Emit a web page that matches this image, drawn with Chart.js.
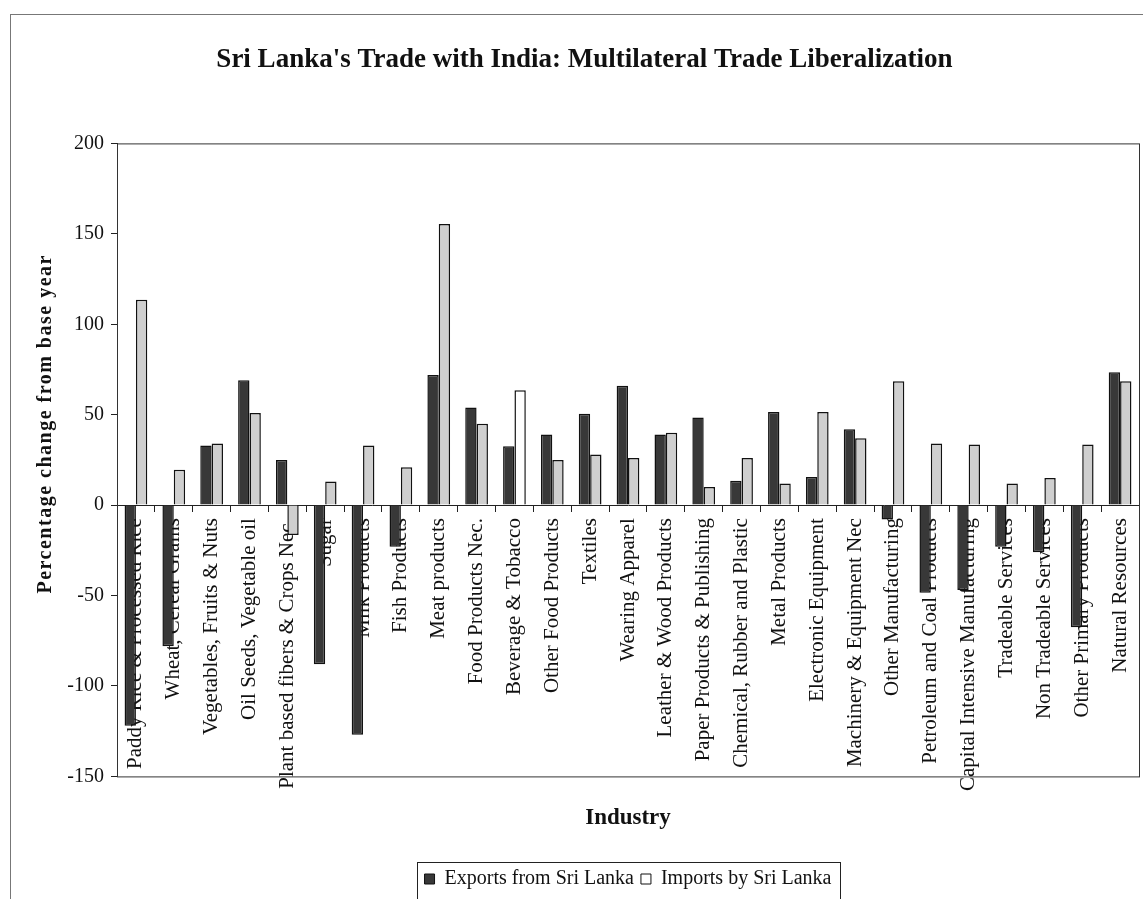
<!DOCTYPE html>
<html>
<head>
<meta charset="utf-8">
<script src="https://cdn.jsdelivr.net/npm/chart.js@4.4.1/dist/chart.umd.min.js"></script>
<style>
  body { margin: 0; background: #fff; overflow: hidden; }
  #wrap { position: relative; width: 1143px; height: 899px; }
  #frame { position: absolute; left: 10px; top: 14px; width: 1200px; height: 1000px; border: 1px solid #777; }
  canvas { position: absolute; left: 0; top: 0; }
</style>
</head>
<body>
<div id="wrap">
  <div id="frame"></div>
  <canvas id="chart" width="1143" height="899"></canvas>
</div>
<script>
const industries = [
  'Paddy Rice & Processed Rice', 'Wheat, Cereal Grains', 'Vegetables, Fruits & Nuts',
  'Oil Seeds, Vegetable oil', 'Plant based fibers & Crops Nec.', 'Sugar', 'Milk Products',
  'Fish Products', 'Meat products', 'Food Products Nec.', 'Beverage & Tobacco',
  'Other Food Products', 'Textiles', 'Wearing Apparel', 'Leather & Wood Products',
  'Paper Products & Publishing', 'Chemical, Rubber and Plastic', 'Metal Products',
  'Electronic Equipment', 'Machinery & Equipment Nec', 'Other Manufacturing',
  'Petroleum and Coal Products', 'Capital Intensive Manufacturing', 'Tradeable Services',
  'Non Tradeable Services', 'Other Primary Products', 'Natural Resources'
]
const exportsFromSriLanka = [-122, -78, 33, 69, 25, -88, -127, -23, 72, 54, 32.5, 39, 50.5, 66, 39,
  48.5, 13.5, 51.5, 15.5, 42, -8, -48.5, -47, -23, -26, -67.5, 73.5]
const importsBySriLanka = [113.5, 19.5, 34, 51, -16.5, 13, 33, 21, 155.5, 45, 63.5, 25, 28, 26, 40,
  10, 26, 12, 51.5, 37, 68.5, 34, 33.5, 12, 15, 33.5, 68.5]
const yTicks = [-150, -100, -50, 0, 50, 100, 150, 200]
const yTitle = 'Percentage change from base year'

const SERIF = "'Liberation Serif', 'Times New Roman', serif"
Chart.defaults.font.family = SERIF
Chart.defaults.color = '#111'

// boxes round the plot area and the legend, plus the spaced-out y title
const extras = {
  id: 'extras',
  afterDraw(chart) {
    const { ctx, chartArea, legend } = chart
    ctx.save()
    ctx.strokeStyle = '#333'
    ctx.lineWidth = 1
    ctx.strokeRect(chartArea.left + 0.5, chartArea.top + 0.5, chartArea.width, chartArea.height)
    const boxes = legend.legendHitBoxes
    if (boxes && boxes.length) {
      const l = Math.min(...boxes.map(b => b.left)) - 8
      const r = Math.max(...boxes.map(b => b.left + b.width)) + 8
      const t = Math.min(...boxes.map(b => b.top)) - 7
      ctx.strokeStyle = '#222'
      ctx.strokeRect(Math.round(l) + 0.5, Math.round(t) + 0.5, Math.round(r - l), 60)
    }
    // y axis title
    ctx.translate(46, chartArea.top + chartArea.height * 0.443)
    ctx.rotate(-Math.PI / 2)
    ctx.font = 'bold 20px ' + SERIF
    ctx.letterSpacing = '1.5px'
    ctx.fillStyle = '#111'
    ctx.textAlign = 'center'
    ctx.textBaseline = 'middle'
    ctx.fillText(yTitle, 0, 0)
    ctx.restore()
  }
}

const ctx = document.getElementById('chart').getContext('2d')
new Chart(ctx, {
  type: 'bar',
  data: {
    labels: industries,
    datasets: [
      {
        label: 'Exports from Sri Lanka',
        data: exportsFromSriLanka,
        backgroundColor: '#383838',
        borderColor: '#111',
        borderWidth: 1.5,
      },
      {
        label: 'Imports by Sri Lanka',
        data: importsBySriLanka,
        backgroundColor: (c) => (c.dataIndex === 10 ? '#ffffff' : '#cfcfcf'),
        borderColor: '#111',
        borderWidth: 1.5,
      },
    ],
  },
  options: {
    responsive: false,
    animation: false,
    layout: { padding: { left: 30, right: 4, top: 0, bottom: 0 } },
    datasets: { bar: { categoryPercentage: 0.6, barPercentage: 1.0 } },
    scales: {
      x: {
        position: { y: 0 },
        grid: { drawOnChartArea: false, drawTicks: true, tickLength: 6, color: '#222', offset: true },
        border: { display: true, color: '#222', width: 1 },
        ticks: {
          autoSkip: false,
          minRotation: 90,
          maxRotation: 90,
          padding: 7,
          color: '#111',
          font: { size: 21 },
        },
        afterFit: (scale) => {
          scale.height = 0
          scale.paddingLeft = 0
          scale.paddingRight = 0
        },
      },
      y: {
        min: -150,
        max: 200,
        afterBuildTicks: (scale) => { scale.ticks = yTicks.map(v => ({ value: v })) },
        afterFit: (scale) => { scale.width = 87 },
        grid: { drawOnChartArea: false, drawTicks: true, tickLength: 6, color: '#222' },
        border: { display: true, color: '#222', width: 1 },
        ticks: { padding: 7, color: '#111', font: { size: 20 } },
      },
    },
    plugins: {
      title: {
        display: true,
        text: "Sri Lanka's Trade with India: Multilateral Trade Liberalization",
        font: { size: 27, weight: 'bold' },
        color: '#111',
        padding: { top: 44, bottom: 67 },
      },
      subtitle: {
        display: true,
        position: 'bottom',
        fullSize: false,
        text: 'Industry',
        font: { size: 23, weight: 'bold' },
        color: '#111',
        padding: { top: 28, bottom: 30 },
      },
      legend: {
        position: 'bottom',
        fullSize: false,
        weight: 3000,
        labels: {
          boxWidth: 10,
          boxHeight: 10,
          padding: 7,
          color: '#111',
          font: { size: 20 },
          generateLabels: (chart) => {
            const items = Chart.defaults.plugins.legend.labels.generateLabels(chart)
            items[0].fillStyle = '#383838'
            items[1].fillStyle = '#ffffff'
            items.forEach(it => { it.strokeStyle = '#111'; it.lineWidth = 1 })
            return items
          },
        },
      },
      tooltip: { enabled: false },
    },
  },
  plugins: [extras],
})
</script>
</body>
</html>
